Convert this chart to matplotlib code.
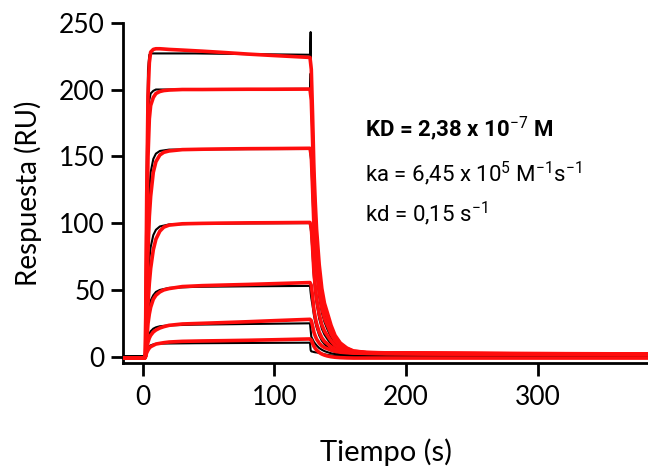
import matplotlib
matplotlib.use("Agg")
import matplotlib.pyplot as plt

# ---- data ----
t_fit = [-15, 1.5, 2, 3, 4, 5, 6, 8, 10, 13, 16, 20, 30, 45, 60, 80, 100, 127,
         128, 129, 130, 131, 132, 134, 136, 138, 140, 143, 146, 150, 155, 160,
         170, 185, 220, 280, 384]

fit1 = [-1, -1, 0, 120, 195, 220, 228, 230, 230.5, 230.5, 230.3, 230, 229.5, 228.7, 227.8, 226.5, 225.4, 224,
        215, 180, 140, 115.5, 95.5, 69, 51, 40, 33.5, 23.5, 16, 10.3, 6.5, 4.3,
        3.2, 2.9, 2.7, 2.4, 2.1]
fit2 = [-1, -1, 0, 90, 150, 178, 188, 194, 197, 198.5, 199.2, 199.6, 200, 200, 200.1, 200.2, 200.2, 200.3,
        192, 160.5, 125, 103, 85.5, 61.7, 46, 36, 30, 21.3, 14.7, 9.4, 6, 4.1,
        3.1, 2.8, 2.6, 2.3, 2.0]
fit3 = [-1, -1, 0, 40, 80, 105, 120, 138, 146, 151, 153, 154, 155, 155.3, 155.5, 155.7, 155.8, 156,
        150, 125, 97.7, 80.8, 67, 48.5, 36.3, 28.6, 24, 17, 12, 7.9, 5.3, 3.7,
        3.0, 2.7, 2.5, 2.2, 1.9]
fit4 = [-1, -1, 0, 20, 40, 55, 66, 80, 88, 94, 97, 98.5, 99.5, 99.8, 100, 100.2, 100.3, 100.5,
        96.6, 81, 63.3, 52.5, 43.7, 31.9, 24, 19.2, 16.2, 11.8, 8.6, 5.9, 4.3, 3.3,
        2.8, 2.6, 2.4, 2.1, 1.8]
fit5 = [-1, -1, 0, 12, 25, 32, 37, 43, 46, 48.5, 50, 51, 52.5, 53.2, 53.6, 54.1, 54.7, 55.5,
        53.4, 45, 35.4, 29.5, 24.8, 18.4, 14.2, 11.5, 9.9, 7.5, 5.8, 4.4, 3.5, 2.9,
        2.6, 2.4, 2.2, 2.0, 1.7]
fit6 = [-1, -1, 0, 6, 11, 14, 16, 18.5, 20, 21.5, 22.5, 23.5, 24.5, 25, 25.5, 26.2, 27, 28,
        27, 22.9, 18.3, 15.5, 13.2, 10.2, 8.1, 6.8, 6.1, 4.9, 4.1, 3.4, 3.0, 2.7,
        2.5, 2.3, 2.1, 1.9, 1.6]
fit7 = [-1, -1, 0, 3, 5, 6.5, 7.5, 8.5, 9.5, 10, 10.5, 11, 11.5, 11.8, 12, 12.3, 12.7, 13.3,
        12.5, 10, 7.8, 6.2, 5, 3.2, 2, 1.2, 0.6, 0, -0.4, -0.7, -0.9, -1,
        -1, -1, -1, -1, -1]

t_data = [-15, 1.5, 2, 3, 4, 5, 6, 8, 10, 13, 20, 40, 80, 127, 127.5,
          128, 129, 130, 131, 132, 134, 136, 138, 140, 143, 146, 150, 155, 160,
          170, 185, 220, 280, 384]

data1 = [0.5, 0.5, 5, 140, 215, 226, 227, 227, 227, 227, 227, 227, 226.5, 226, 243,
         200, 175, 138, 110, 90, 64, 46, 35, 28, 19, 12.5, 7.5, 4, 2.5,
         1.5, 1.2, 1.0, 0.8, 0.7]
data2 = [0.5, 0.5, 5, 100, 170, 192, 197, 199, 200, 200, 200, 200, 200.3, 200.5, 212,
         190, 158, 122, 100, 83, 59, 43, 33, 27, 18, 12, 7, 4, 2.5,
         1.5, 1.2, 1.0, 0.8, 0.7]
data3 = [0.5, 0.5, 3, 55, 100, 125, 138, 148, 152, 154, 155, 155.2, 155.4, 155.5, 150,
         146, 120, 93, 76, 63, 45, 33, 26, 21, 14.5, 10, 6, 3.5, 2.3,
         1.5, 1.2, 1.0, 0.8, 0.7]
data4 = [0.5, 0.5, 2, 30, 58, 73, 82, 91, 95, 97.5, 99, 99.5, 99.8, 100, 96,
         92, 76, 59, 48, 40, 28.5, 21, 16.5, 13.5, 9.5, 6.5, 4, 2.5, 1.8,
         1.3, 1.1, 0.9, 0.8, 0.7]
data5 = [0.5, 0.5, 1.5, 18, 32, 38, 42, 46, 48.5, 50, 51.5, 52.3, 52.7, 53, 48,
         44, 38, 31, 26, 22, 16, 12, 9.5, 7.5, 5, 3.5, 2.2, 1.5, 1.2,
         1.0, 0.9, 0.8, 0.7, 0.6]
data6 = [0.5, 0.5, 1, 8, 14, 17, 19, 21, 22, 22.8, 23.5, 24, 24.5, 25, 20,
         15, 13, 11, 9.7, 8.5, 6.5, 5.2, 4.2, 3.5, 2.6, 2, 1.5, 1.1, 1.0,
         0.9, 0.8, 0.7, 0.6, 0.5]
data7 = [0.5, 0.5, 1, 4, 6.5, 7.8, 8.5, 9.2, 9.5, 9.8, 9.9, 10.1, 10.3, 10.5, 5,
         4, 3.8, 3.5, 3.3, 3.2, 2.8, 2.3, 1.8, 1.4, 1, 0.8, 0.6, 0.5, 0.5,
         0.5, 0.5, 0.5, 0.5, 0.5]

x_ticks = [0, 100, 200, 300]
y_ticks = [0, 50, 100, 150, 200, 250]
x_label = "Tiempo (s)"
y_label = "Respuesta (RU)"
note_kd = r"KD = 2,38 x 10$^{-7}$ M"
note_ka = r"ka = 6,45 x 10$^{5}$ M$^{-1}$s$^{-1}$"
note_koff = r"kd = 0,15 s$^{-1}$"

# ---- figure ----
plt.rcParams["mathtext.fontset"] = "custom"
plt.rcParams["mathtext.rm"] = "Roboto"
plt.rcParams["mathtext.it"] = "Roboto:italic"
plt.rcParams["mathtext.bf"] = "Roboto:bold"

fig = plt.figure(figsize=(6.48, 4.68), dpi=100)
ax = fig.add_axes([123 / 648, 105 / 468, 525 / 648, 340.3 / 468])

for d in [data1, data2, data3, data4, data5, data6, data7]:
    ax.plot(t_data, d, color="black", lw=1.5, solid_joinstyle="round", zorder=2)
for f in [fit1, fit2, fit3, fit4, fit5, fit6, fit7]:
    ax.plot(t_fit, f, color="#ff0d0d", lw=2.6, solid_joinstyle="round",
            solid_capstyle="round", zorder=3)

ax.set_xlim(-15, 383.7)
ax.set_ylim(-4.7, 250)
ax.set_xticks(x_ticks)
ax.set_yticks(y_ticks)
for s in ["top", "right"]:
    ax.spines[s].set_visible(False)
for s in ["left", "bottom"]:
    ax.spines[s].set_linewidth(2.0)
ax.tick_params(axis="both", length=9, width=2.0, labelsize=19, pad=4)
ax.tick_params(axis="x", pad=7)
for lab in ax.get_xticklabels() + ax.get_yticklabels():
    lab.set_fontfamily("Lato")
ax.set_xlabel(x_label, fontsize=21, family="Lato", labelpad=20)
ax.set_ylabel(y_label, fontsize=20, family="Lato", labelpad=12)

ax.text(168.5, 164.7, note_kd, fontsize=16, family="Roboto",
        fontweight="bold", va="baseline", ha="left")
ax.text(168.5, 131, note_ka, fontsize=16, family="Roboto",
        va="baseline", ha="left")
ax.text(168.5, 101, note_koff, fontsize=16, family="Roboto",
        va="baseline", ha="left")

fig.savefig("out.png", dpi=100)
